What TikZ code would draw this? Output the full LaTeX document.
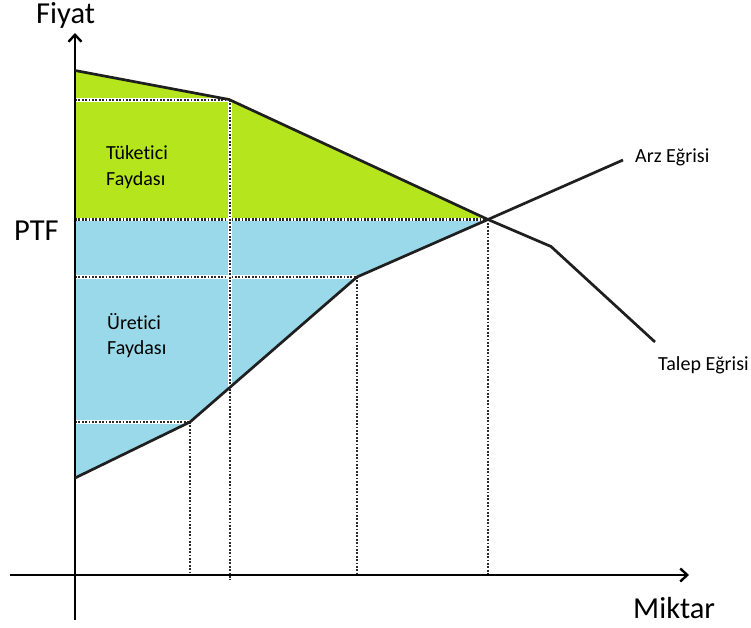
\documentclass[tikz,border=0pt]{standalone}
\usepackage{fontspec}
\setmainfont{Carlito}[Ligatures=NoCommon]
\usetikzlibrary{arrows.meta}
\definecolor{cgreen}{HTML}{B5E61D}
\definecolor{cblue}{HTML}{99D9EA}
\definecolor{cdot}{HTML}{2A2A2A}
\tikzset{
  axis/.style={line width=2.8pt, -{Straight Barb[length=7pt,width=13pt,line width=2.4pt]}},
  curve/.style={line width=2.7pt, line join=round, color=black!88},
  guide/.style={line width=3.6pt, white},
  guidedots/.style={line width=2.1pt, cdot, dash pattern=on 1.8pt off 1.6pt},
  big/.style={font=\fontsize{30.5}{32}\selectfont, inner sep=0pt},
  small/.style={font=\fontsize{20}{22}\selectfont, inner sep=0pt},
}
\begin{document}
\begin{tikzpicture}[x=1pt,y=-1pt]
\useasboundingbox (0,0) rectangle (751,628);
% key points
\coordinate (d0) at (75,70.5);
\coordinate (d1) at (229,99.5);
\coordinate (eq) at (488,219.5);
\coordinate (d2) at (551,246.5);
\coordinate (d3) at (655,342);
\coordinate (s0) at (75,478);
\coordinate (s1) at (190,422);
\coordinate (s2) at (357,277);
\coordinate (s3) at (623,160);
\coordinate (p0) at (75,219.5);
% regions
\fill[cgreen] (d0) -- (d1) -- (eq) -- (p0) -- cycle;
\fill[cblue] (p0) -- (eq) -- (s2) -- (s1) -- (s0) -- cycle;
% guide lines
\coordinate (g1) at (75,100);
\coordinate (g2) at (75,277);
\coordinate (g3) at (75,422);
\coordinate (b1) at (190,575);
\coordinate (b2) at (230,580);
\coordinate (b3) at (357,575);
\coordinate (b4) at (488,575);
\coordinate (t2) at (230,100);
\foreach \a/\b in {g1/t2, p0/eq, g2/s2, g3/s1, t2/b2, s1/b1, s2/b3, eq/b4}{
  \draw[guide] (\a) -- (\b);
  \draw[guidedots] (\a) -- (\b);
}
% axes
\coordinate (yb) at (75,620);
\coordinate (yt) at (75,33);
\coordinate (xl) at (10,575);
\coordinate (xr) at (689,575);
\draw[axis] (yb) -- (yt);
\draw[axis] (xl) -- (xr);
% curves
\draw[curve] (d0) -- (d1) -- (eq) -- (d2) -- (d3);
\draw[curve] (s0) -- (s1) -- (s2) -- (eq) -- (s3);
% labels
\node[big, anchor=base west] (fiyat) at (36,24) {Fiyat};
\node[big, anchor=base west] (miktar) at (633,618) {Miktar};
\node[big, anchor=base west] (ptf) at (14,240) {PTF};
\node[small, anchor=base west] (arz) at (635,163) {Arz Eğrisi};
\node[small, anchor=base west] (talep) at (658,370) {Talep Eğrisi};
\node[small, anchor=base west] (tuk1) at (106,160) {Tüketici};
\node[small, anchor=base west] (tuk2) at (106,186) {Faydası};
\node[small, anchor=base west] (ure1) at (107,329) {Üretici};
\node[small, anchor=base west] (ure2) at (107,354) {Faydası};
\end{tikzpicture}
\end{document}
